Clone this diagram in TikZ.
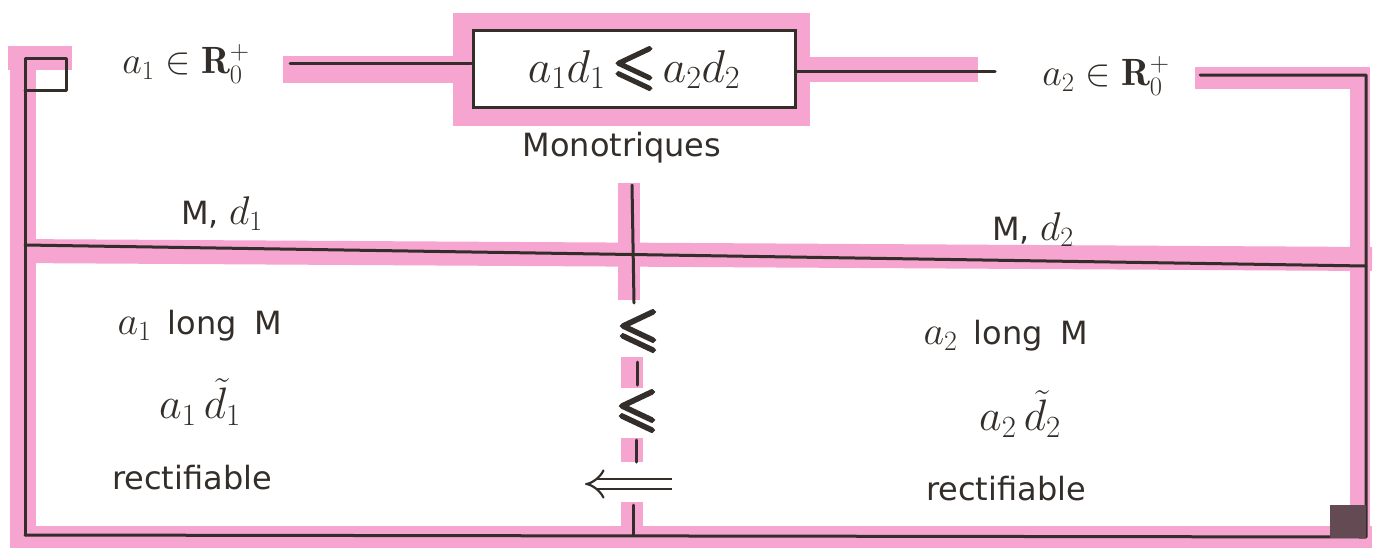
\RequirePackage{fix-cm}
\documentclass[tikz,border=0pt]{standalone}
\usepackage{amsmath,amssymb}
\usepackage{fontspec}
\setsansfont{DejaVu Sans}
\usetikzlibrary{arrows.meta}
\definecolor{hl}{RGB}{246,164,208}
\definecolor{ink}{RGB}{52,46,42}
\newcommand\heavy[2][3]{\special{pdf:literal direct #1 w 2 Tr}#2\special{pdf:literal direct 0 Tr}}
\newcommand\mm[2][40]{{\fontsize{#1}{#1}\selectfont$#2$}}
\begin{document}
\begin{tikzpicture}[x=1pt,y=-1pt,
  band/.style={hl,line width=#1},
  band/.default=22,
  inkline/.style={ink,line width=3,line cap=round,line join=round},
  lbl/.style={text=ink,inner sep=1pt,font=\fontsize{32}{38}\selectfont\sffamily},
  leqsym/.style={text=ink,inner sep=0pt,font=\fontsize{52}{56}\selectfont},
]
\useasboundingbox (0,0) rectangle (1375,552);
\fill[white] (0,0) rectangle (1375,552);

% ---------- pink highlighter bands ----------
\draw[band=26] (23,48) -- (23,546);
\fill[hl] (8,46) rectangle (72,70);
\draw[band=22] (10,537) -- (1372,537);
\draw[band=24] (12,251) -- (1372,259);
\draw[band=20] (1360,68) -- (1360,540);
\fill[hl] (1195,67) rectangle (1370,89);
\fill[hl] (283,56) rectangle (470,83);
\fill[hl] (800,57) rectangle (978,82);
\fill[hl] (453,13) rectangle (810,126);
\draw[band=22] (629,183) -- (629,300);
\draw[band=22] (632,357) -- (632,388);
\draw[band=22] (632,438) -- (632,462);
\draw[band=22] (632,502) -- (632,540);

% ---------- coordinates ----------
\coordinate (tl) at (25,58);
\coordinate (sqr) at (66,58);
\coordinate (sqb) at (66,90);
\coordinate (sql) at (25,90);
\coordinate (bl) at (25,535);
\coordinate (br) at (1366,537);
\coordinate (tr) at (1366,75);
\coordinate (trs) at (1200,75);
\coordinate (c1) at (290,63);
\coordinate (c2) at (995,71);
\coordinate (ml) at (25,245);
\coordinate (mr) at (1366,266);

% ---------- main box ----------
\node[draw=ink,line width=3,fill=white,minimum width=322,minimum height=77,
      inner sep=0pt,text=ink,font=\fontsize{46}{50}\selectfont] (box) at (634,68.5)
  {$a_1 d_1$\,{\fontsize{54}{56}\selectfont\heavy{$\leqslant$}}\,$a_2 d_2$};

% ---------- frame ----------
\draw[inkline] (bl) -- (tl) -- (sqr) -- (sqb) -- (sql);
\draw[inkline] (trs) -- (tr) -- (br) -- (bl);
\draw[inkline] (ml) -- (mr);
\draw[inkline] (c1) -- (c1 -| box.west);
\draw[inkline] (c2 -| box.east) -- (c2);
\fill[ink!75!hl] (1330,505) rectangle (1366,538);

% ---------- labels ----------
\node[lbl] (r1) at (186,64) {\mm[38]{a_1 \in \mathbf{R}_0^{+}}};
\node[lbl] (r2) at (1106,76) {\mm[38]{a_2 \in \mathbf{R}_0^{+}}};
\node[lbl] (mono) at (622,148) {Monotriques};
\node[lbl] (md1) at (222,214) {M, \mm{d_1}};
\node[lbl] (md2) at (1033,230) {M, \mm{d_2}};
\node[lbl] (l1) at (200,326) {\mm{a_1}\hspace{6pt} long\hspace{8pt} M};
\node[lbl] (t1) at (200,402) {\mm[44]{a_1\,\tilde{d}_1}};
\node[lbl] (rf1) at (192,478) {rectifiable};
\node[lbl] (l2) at (1006,336) {\mm{a_2}\hspace{6pt} long\hspace{8pt} M};
\node[lbl] (t2) at (1020,414) {\mm[44]{a_2\,\tilde{d}_2}};
\node[lbl] (rf2) at (1006,489) {rectifiable};

% ---------- central divider ----------
\node[leqsym] (le1) at (638,331) {\heavy[3.5]{$\leqslant$}};
\node[leqsym] (le2) at (637,411) {\heavy[3.5]{$\leqslant$}};
\coordinate (d0) at (632,185);
\coordinate (arrR) at (672,484);
\coordinate (arrL) at (585,484);
\coordinate (d4) at (633,535);
\draw[inkline] (d0) -- (634,303);
\draw[inkline] (637,362) -- (637,385);
\draw[inkline] (636,440) -- (636,462);
\draw[inkline] (633,505) -- (d4);
\draw[ink,line width=2.2,double=white,double distance=8pt,-{Implies}] (arrR) -- (arrL);
\end{tikzpicture}
\end{document}
